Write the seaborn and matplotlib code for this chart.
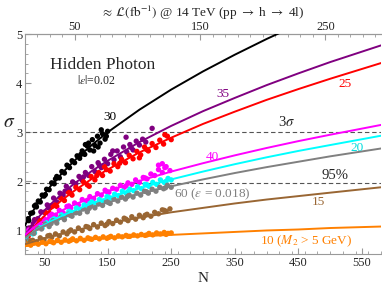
import matplotlib
matplotlib.use('Agg')
import matplotlib.pyplot as plt
from matplotlib.ticker import MultipleLocator, FixedLocator
import seaborn as sns
import pandas as pd

# fit curves at these N
n_fit = [20, 30, 40, 50, 60, 80, 100, 125, 150, 200, 250, 300, 350, 400, 450, 500, 580]
fit_30 = [1.10, 1.34, 1.55, 1.73, 1.90, 2.19, 2.45, 2.74, 3.00, 3.46, 3.87, 4.24, 4.58, 4.90, 5.20, 5.48, 5.90]
fit_35 = [0.89, 1.08, 1.25, 1.40, 1.53, 1.77, 1.98, 2.21, 2.42, 2.80, 3.13, 3.43, 3.70, 3.96, 4.20, 4.43, 4.77]
fit_25 = [0.82, 1.00, 1.16, 1.29, 1.42, 1.64, 1.83, 2.05, 2.24, 2.59, 2.89, 3.17, 3.42, 3.66, 3.88, 4.09, 4.41]
fit_40 = [0.91, 1.02, 1.12, 1.21, 1.28, 1.42, 1.54, 1.67, 1.80, 2.01, 2.20, 2.37, 2.53, 2.68, 2.82, 2.95, 3.15]
fit_20 = [0.83, 0.94, 1.03, 1.11, 1.18, 1.31, 1.42, 1.55, 1.66, 1.86, 2.04, 2.20, 2.35, 2.49, 2.62, 2.74, 2.93]
fit_60 = [0.85, 0.94, 1.02, 1.09, 1.15, 1.26, 1.36, 1.47, 1.57, 1.75, 1.90, 2.04, 2.17, 2.29, 2.40, 2.51, 2.67]
fit_15 = [0.72, 0.76, 0.80, 0.84, 0.87, 0.94, 1.00, 1.08, 1.14, 1.26, 1.37, 1.46, 1.55, 1.63, 1.70, 1.77, 1.88]
fit_10 = [0.68, 0.70, 0.72, 0.73, 0.75, 0.77, 0.79, 0.82, 0.84, 0.88, 0.91, 0.94, 0.97, 1.00, 1.02, 1.05, 1.08]

# simulated points
n_30 = [20, 23, 26, 29, 32, 35, 38, 41, 44, 47, 50, 54, 58, 62, 66, 70, 74, 78, 82, 86, 90, 94, 98,
        102, 106, 110, 114, 118, 122, 126, 130, 134, 138, 142, 146, 150, 120, 128, 140, 135, 148, 115,
        25, 37, 52, 68, 88, 108]
s_30 = [1.05, 1.21, 1.20, 1.35, 1.36, 1.50, 1.48, 1.60, 1.58, 1.72, 1.70, 1.84, 1.83, 1.97, 1.95, 2.10,
        2.07, 2.20, 2.17, 2.33, 2.28, 2.42, 2.38, 2.52, 2.47, 2.62, 2.55, 2.72, 2.64, 2.85, 2.73, 2.92,
        2.78, 2.97, 2.86, 3.02, 2.78, 2.62, 3.05, 2.70, 2.92, 2.75,
        1.24, 1.52, 1.73, 2.05, 2.31, 2.55]
n_35 = [22, 26, 30, 35, 40, 45, 50, 55, 60, 65, 70, 75, 80, 85, 90, 95, 100, 105, 110, 115, 120, 125,
        130, 135, 140, 145, 150, 155, 160, 165, 170, 175, 180, 185, 190, 195, 200, 205, 210,
        179, 220, 172, 158, 33, 57, 83, 112, 137, 187]
s_35 = [0.98, 1.05, 1.06, 1.22, 1.24, 1.38, 1.37, 1.52, 1.50, 1.66, 1.58, 1.76, 1.72, 1.90, 1.82, 1.99,
        1.95, 2.10, 2.02, 2.18, 2.12, 2.30, 2.20, 2.38, 2.28, 2.45, 2.36, 2.55, 2.44, 2.62, 2.50, 2.70,
        2.60, 2.75, 2.64, 2.82, 2.74, 2.86, 2.80, 2.90, 3.08, 2.42, 2.62,
        1.14, 1.46, 1.80, 2.09, 2.33, 2.69]
n_25 = [25, 30, 35, 40, 46, 52, 58, 64, 70, 76, 82, 88, 94, 100, 106, 112, 118, 124, 130, 136, 142,
        148, 154, 160, 166, 172, 178, 184, 190, 196, 202, 208, 214, 220, 226, 232, 238, 244, 250,
        121, 145, 200, 240, 43, 67, 91, 133, 169, 211]
s_25 = [0.88, 1.04, 1.05, 1.21, 1.20, 1.37, 1.35, 1.50, 1.49, 1.66, 1.61, 1.78, 1.72, 1.88, 1.83, 1.99,
        1.93, 2.10, 2.03, 2.18, 2.12, 2.24, 2.21, 2.36, 2.30, 2.45, 2.38, 2.53, 2.46, 2.61, 2.54, 2.70,
        2.62, 2.77, 2.69, 2.84, 2.76, 2.92, 2.85, 1.90, 2.30, 2.48, 2.95,
        1.17, 1.52, 1.76, 2.12, 2.37, 2.65]
n_40 = [20, 26, 32, 38, 44, 50, 56, 62, 68, 74, 80, 86, 92, 98, 104, 110, 116, 122, 128, 134, 140,
        146, 152, 158, 164, 170, 176, 182, 188, 194, 200, 206, 212, 218, 224, 230, 236, 242, 248,
        230, 240, 236, 29, 59, 89, 119, 149, 179, 209]
s_40 = [0.88, 1.01, 1.03, 1.13, 1.12, 1.24, 1.22, 1.33, 1.31, 1.41, 1.36, 1.49, 1.46, 1.56, 1.52, 1.63,
        1.60, 1.69, 1.65, 1.75, 1.72, 1.82, 1.78, 1.86, 1.84, 1.92, 1.88, 1.97, 1.94, 2.03, 1.98, 2.08,
        2.05, 2.15, 2.12, 2.24, 2.18, 2.30, 2.22, 2.33, 2.28, 2.36,
        0.99, 1.30, 1.50, 1.62, 1.79, 1.91, 2.07]
n_20 = [23, 29, 35, 41, 47, 53, 59, 65, 71, 77, 83, 89, 95, 101, 107, 113, 119, 125, 131, 137, 143,
        149, 155, 161, 167, 173, 179, 185, 191, 197, 203, 209, 215, 221, 227, 233, 239, 245, 250,
        32, 62, 92, 122, 152, 182, 212, 242]
s_20 = [0.80, 0.96, 0.95, 1.07, 1.05, 1.16, 1.14, 1.24, 1.22, 1.32, 1.29, 1.39, 1.36, 1.46, 1.43, 1.52,
        1.49, 1.58, 1.55, 1.63, 1.60, 1.69, 1.66, 1.74, 1.71, 1.80, 1.76, 1.84, 1.81, 1.89, 1.85, 1.94,
        1.90, 1.98, 1.94, 2.03, 1.98, 2.06, 2.03,
        0.93, 1.20, 1.37, 1.55, 1.67, 1.79, 1.93, 2.00]
n_60 = [22, 28, 34, 40, 46, 52, 58, 64, 70, 76, 82, 88, 94, 100, 106, 112, 118, 124, 130, 136, 142,
        148, 154, 160, 166, 172, 178, 184, 190, 196, 202, 208, 214, 220, 226, 232, 238, 244, 250,
        31, 61, 91, 121, 151, 181, 211, 241]
s_60 = [0.84, 0.95, 0.94, 1.05, 1.03, 1.13, 1.08, 1.20, 1.15, 1.27, 1.22, 1.33, 1.29, 1.36, 1.35, 1.44,
        1.38, 1.50, 1.46, 1.54, 1.51, 1.59, 1.55, 1.64, 1.60, 1.68, 1.64, 1.72, 1.68, 1.76, 1.72, 1.80,
        1.76, 1.84, 1.80, 1.88, 1.85, 1.92, 1.88,
        0.98, 1.14, 1.31, 1.45, 1.57, 1.69, 1.79, 1.87]
n_15 = [20, 26, 32, 38, 44, 50, 56, 62, 68, 74, 80, 86, 92, 98, 104, 110, 116, 122, 128, 134, 140,
        146, 152, 158, 164, 170, 176, 182, 188, 194, 200, 206, 212, 218, 224, 230, 236, 242, 248,
        29, 59, 89, 119, 149, 179, 209, 239]
s_15 = [0.76, 0.73, 0.80, 0.77, 0.85, 0.81, 0.89, 0.86, 0.93, 0.89, 0.97, 0.93, 1.01, 0.97, 1.05, 1.00,
        1.08, 1.04, 1.12, 1.07, 1.15, 1.10, 1.18, 1.14, 1.21, 1.17, 1.25, 1.20, 1.28, 1.23, 1.31, 1.26,
        1.33, 1.29, 1.37, 1.34, 1.42, 1.39, 1.44,
        0.79, 0.90, 0.98, 1.07, 1.13, 1.23, 1.31, 1.41]
n_10 = [23, 29, 35, 41, 47, 53, 59, 65, 71, 77, 83, 89, 95, 101, 107, 113, 119, 125, 131, 137, 143,
        149, 155, 161, 167, 173, 179, 185, 191, 197, 203, 209, 215, 221, 227, 233, 239, 245, 250,
        32, 62, 92, 122, 152, 182, 212, 242]
s_10 = [0.72, 0.70, 0.75, 0.72, 0.77, 0.73, 0.78, 0.75, 0.80, 0.76, 0.81, 0.78, 0.83, 0.79, 0.84, 0.80,
        0.85, 0.82, 0.86, 0.83, 0.87, 0.84, 0.88, 0.85, 0.89, 0.87, 0.90, 0.88, 0.91, 0.89, 0.92, 0.90,
        0.94, 0.91, 0.95, 0.93, 0.96, 0.94, 0.95,
        0.74, 0.77, 0.80, 0.83, 0.86, 0.88, 0.91, 0.92]

masses = ['30', '35', '25', '40', '20', '60', '15', '10']
colors = {'30': 'black', '35': '#800080', '25': '#ff0000', '40': '#ff00ff',
          '20': '#00ffff', '60': '#808080', '15': '#996633', '10': '#ff8000'}

fits = dict(zip(masses, [fit_30, fit_35, fit_25, fit_40, fit_20, fit_60, fit_15, fit_10]))
pts_n = dict(zip(masses, [n_30, n_35, n_25, n_40, n_20, n_60, n_15, n_10]))
pts_s = dict(zip(masses, [s_30, s_35, s_25, s_40, s_20, s_60, s_15, s_10]))

df_fit = pd.concat([pd.DataFrame({'N': n_fit, 'sigma': fits[m], 'm': m}) for m in masses])
df_pts = pd.concat([pd.DataFrame({'N': pts_n[m], 'sigma': pts_s[m], 'm': m}) for m in masses])

sns.set_style('ticks')
plt.rcParams['font.family'] = ['Liberation Serif', 'DejaVu Serif']
plt.rcParams['mathtext.fontset'] = 'stix'

fig = plt.figure(figsize=(3.82, 2.89), dpi=100)
ax = fig.add_axes([0.0654, 0.121, 0.932, 0.761])

sns.scatterplot(data=df_pts, x='N', y='sigma', hue='m', palette=colors, s=15,
                linewidth=0, legend=False, ax=ax, zorder=2)
sns.lineplot(data=df_fit, x='N', y='sigma', hue='m', palette=colors, lw=1.4,
             legend=False, ax=ax, zorder=3)

ax.axhline(3.0, color='#555555', ls=(0, (4, 2.5)), lw=0.8, zorder=1)
ax.axhline(1.96, color='#555555', ls=(0, (4, 2.5)), lw=0.8, zorder=1)

ax.set_xlim(20, 580)
ax.set_ylim(0.52, 5)
ax.xaxis.set_major_locator(FixedLocator([50, 150, 250, 350, 450, 550]))
ax.xaxis.set_minor_locator(MultipleLocator(20))
ax.yaxis.set_major_locator(MultipleLocator(1))
ax.yaxis.set_minor_locator(MultipleLocator(0.2))
ax.tick_params(which='both', direction='in', color='#999999', labelsize=9, pad=2)
ax.tick_params(which='major', length=4)
ax.tick_params(which='minor', length=2)
for sp in ['left', 'bottom', 'top']:
    ax.spines[sp].set_color('#999999')
    ax.spines[sp].set_linewidth(0.8)
ax.spines['right'].set_visible(False)

ax.set_xlabel('N', fontsize=11, labelpad=2)
ax.set_ylabel(r'$\sigma$', fontsize=14, rotation=0, labelpad=6)
ax.yaxis.set_label_coords(-0.045, 0.56)

top = ax.secondary_xaxis('top', functions=(lambda n: n / 1.97, lambda l: l * 1.97))
top.xaxis.set_major_locator(FixedLocator([50, 150, 250]))
top.xaxis.set_minor_locator(MultipleLocator(10))
top.tick_params(which='both', direction='in', color='#999999', labelsize=9, pad=0.5)
top.tick_params(which='major', length=4)
top.tick_params(which='minor', length=2)
top.spines['top'].set_color('#999999')
top.set_xlabel(r'$\approx\,\mathcal{L}(\mathrm{fb}^{-1})$ @ 14 TeV (pp $\rightarrow$ h $\rightarrow$ 4l)',
               fontsize=9.5, labelpad=3)

ax.text(142, 4.37, 'Hidden Photon', fontsize=12.5, ha='center', va='center')
ax.text(132, 4.05, r'$|\epsilon|$=0.02', fontsize=8.5, ha='center', va='center')
ax.text(153, 3.31, '30', fontsize=9.5, color='black', ha='center', va='center')
ax.text(332, 3.78, '35', fontsize=9.5, color='#800080', ha='center', va='center')
ax.text(523, 3.98, '25', fontsize=9.5, color='#ff0000', ha='center', va='center')
ax.text(431, 3.20, r'3$\sigma$', fontsize=10.5, ha='center', va='center')
ax.text(314, 2.49, '40', fontsize=9.5, color='#ff00ff', ha='center', va='center')
ax.text(543, 2.69, '20', fontsize=9.5, color='#00dddd', ha='center', va='center')
ax.text(507, 2.12, '95%', fontsize=10.5, ha='center', va='center')
ax.text(315, 1.73, r'60 ($\epsilon$ = 0.018)', fontsize=9.5, color='#808080', ha='center', va='center')
ax.text(481, 1.57, '15', fontsize=9.5, color='#996633', ha='center', va='center')
ax.text(462, 0.78, r'10 ($M_2$ > 5 GeV)', fontsize=9.5, color='#ff8000', ha='center', va='center')

fig.savefig('out.png', dpi=100)
